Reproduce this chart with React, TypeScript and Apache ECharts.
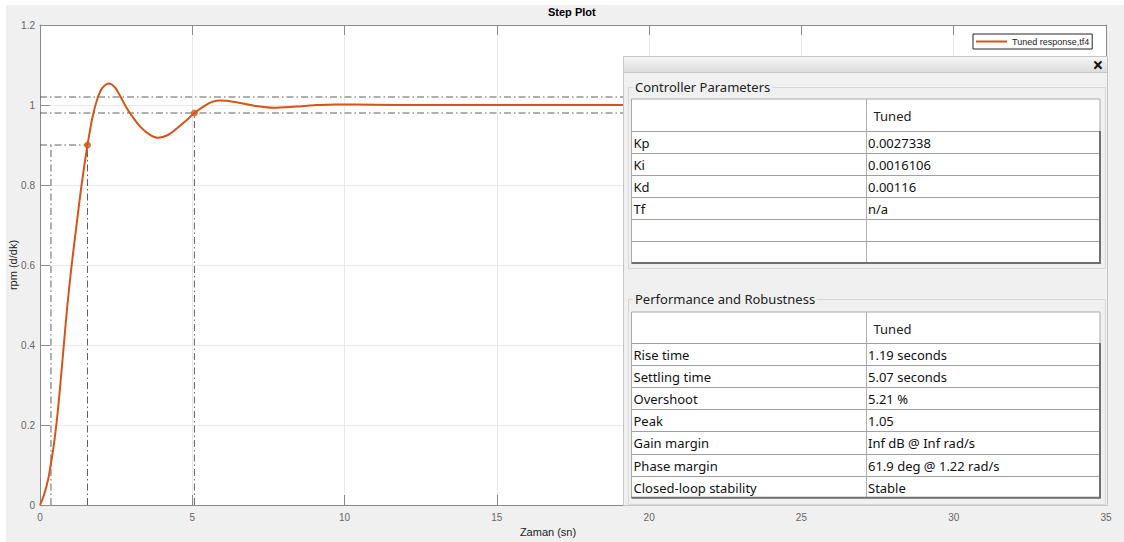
import React, { useEffect, useRef } from "react";
import * as echarts from "echarts";

// ---- data ----
const timeS = [
  0, 0.13, 0.27, 0.35, 0.45, 0.55, 0.66, 0.77, 0.9, 1.04, 1.2, 1.37, 1.56, 1.73, 1.89, 2.05, 2.27,
  2.45, 2.6, 2.79, 2.95, 3.29, 3.6, 3.88, 4.2, 4.5, 4.8, 5.07, 5.47, 5.7, 5.9, 6.4, 7.0, 7.66, 8.4,
  9.0, 9.7, 11, 12.5, 14, 20, 25, 30, 35,
];
const response = [
  0, 0.025, 0.065, 0.1, 0.148, 0.21, 0.295, 0.39, 0.5, 0.6, 0.7, 0.803, 0.9, 0.972, 1.017, 1.043,
  1.054, 1.045, 1.027, 1.0, 0.98, 0.946, 0.926, 0.918, 0.925, 0.942, 0.961, 0.98, 1.001, 1.009,
  1.011, 1.0077, 0.9986, 0.993, 0.996, 0.9995, 1.0015, 1.0008, 0.9998, 1.0, 1.0, 1.0, 1.0, 1.0,
];
const riseTimes = [0.36, 1.56]; // 10% and 90% crossing times
const riseLevel = 0.9;
const settleTime = 5.07;
const settleBand = [0.98, 1.02];
const xRange = [0, 35];
const yRange = [0, 1.2];

const seriesName = "Tuned response,tf4";
const tableHeader = "Tuned";
const paramNames = ["Kp", "Ki", "Kd", "Tf", "", ""];
const paramValues = ["0.0027338", "0.0016106", "0.00116", "n/a", "", ""];
const perfNames = [
  "Rise time",
  "Settling time",
  "Overshoot",
  "Peak",
  "Gain margin",
  "Phase margin",
  "Closed-loop stability",
];
const perfValues = [
  "1.19 seconds",
  "5.07 seconds",
  "5.21 %",
  "1.05",
  "Inf dB @ Inf rad/s",
  "61.9 deg @ 1.22 rad/s",
  "Stable",
];

// ---- styles ----
const ORANGE = "#D95319";
const AXIS = "#8a8a8a";
const PLOT_FONT = "Liberation Sans";
const UI_FONT = "Noto Sans";
const DASHDOT = [7, 3, 1.5, 3];

function refLine(points: number[][]) {
  return {
    type: "line",
    data: points,
    symbol: "none",
    silent: true,
    z: 2,
    lineStyle: { color: "#606060", width: 1, type: DASHDOT },
  };
}

function buildTable(
  top: number,
  headerH: number,
  rowH: number,
  names: string[],
  values: string[]
) {
  const left = 631.5;
  const right = 1100;
  const colX = 866.5;
  const bottom = top + headerH + rowH * names.length;
  const els: any[] = [];
  els.push({
    type: "rect",
    z: 101,
    shape: { x: left, y: top, width: right - left, height: bottom - top },
    style: { fill: "#ffffff", stroke: "#a8a8a8", lineWidth: 1 },
  });
  els.push({
    type: "line",
    z: 102,
    shape: { x1: colX, y1: top, x2: colX, y2: bottom },
    style: { stroke: "#b0b0b0", lineWidth: 1 },
  });
  els.push({
    type: "text",
    z: 103,
    style: {
      x: colX + 7,
      y: top + headerH / 2 + 1,
      text: tableHeader,
      fill: "#222",
      font: `13px "${UI_FONT}"`,
      verticalAlign: "middle",
    },
  });
  names.forEach((n, i) => {
    const y0 = Math.round(top + headerH + rowH * i) + 0.5;
    els.push({
      type: "line",
      z: 102,
      shape: { x1: left, y1: y0, x2: right, y2: y0 },
      style: { stroke: "#a0a0a0", lineWidth: 1 },
    });
    const cy = top + headerH + rowH * i + rowH / 2 + 1;
    els.push({
      type: "text",
      z: 103,
      style: { x: left + 2, y: cy, text: n, fill: "#111", font: `13px "${UI_FONT}"`, verticalAlign: "middle" },
    });
    els.push({
      type: "text",
      z: 103,
      style: { x: colX + 1.5, y: cy, text: values[i], fill: "#111", font: `13px "${UI_FONT}"`, verticalAlign: "middle" },
    });
  });
  els.push({
    type: "polyline",
    z: 103,
    shape: { points: [[right, top + headerH], [right, bottom], [left, bottom]] },
    style: { stroke: "#6f6f6f", lineWidth: 2, fill: null },
  });
  return els;
}

function groupBox(top: number, bottom: number, label: string) {
  return [
    {
      type: "rect",
      z: 100,
      shape: { x: 628.5, y: top + 0.5, width: 477, height: bottom - top },
      style: { fill: null, stroke: "#d8d8d8", lineWidth: 1 },
    },
    {
      type: "text",
      z: 103,
      style: {
        x: 633,
        y: top,
        text: label,
        fill: "#222",
        font: `13px "${UI_FONT}"`,
        verticalAlign: "middle",
        backgroundColor: "#f0f0f0",
        padding: [0, 2, 0, 2],
      },
    },
  ];
}

function buildGraphic() {
  const els: any[] = [];
  els.push({ type: "rect", z: 0, shape: { x: 0, y: 0, width: 1124, height: 5 }, style: { fill: "#fff" } });
  els.push({ type: "rect", z: 0, shape: { x: 0, y: 0, width: 6, height: 542 }, style: { fill: "#fff" } });
  els.push({
    type: "rect",
    z: 100,
    shape: { x: 623.5, y: 56.5, width: 484, height: 449 },
    style: { fill: "#f0f0f0", stroke: "#c6c6c6", lineWidth: 1 },
  });
  els.push({
    type: "rect",
    z: 100,
    shape: { x: 624, y: 57, width: 483, height: 15 },
    style: {
      fill: {
        type: "linear",
        x: 0,
        y: 0,
        x2: 0,
        y2: 1,
        colorStops: [
          { offset: 0, color: "#f6f6f6" },
          { offset: 1, color: "#dcdcdc" },
        ],
      },
    },
  });
  els.push({
    type: "line",
    z: 101,
    shape: { x1: 624, y1: 72.5, x2: 1107, y2: 72.5 },
    style: { stroke: "#c4c4c4", lineWidth: 1 },
  });
  els.push({
    type: "text",
    z: 103,
    style: {
      x: 1098,
      y: 65,
      text: "×",
      fill: "#111",
      font: `bold 19px "${UI_FONT}"`,
      align: "center",
      verticalAlign: "middle",
    },
  });
  els.push(...groupBox(87, 268, "Controller Parameters"));
  els.push(...buildTable(99, 32, 22, paramNames, paramValues));
  els.push(...groupBox(299, 504, "Performance and Robustness"));
  els.push(...buildTable(312, 31, 22.1, perfNames, perfValues));
  return els;
}

const mainData = timeS.map((t, i) => [t, response[i]]);

const axisCommon = {
  type: "value",
  axisLine: { show: true, onZero: false, lineStyle: { color: AXIS, width: 1 } },
  axisTick: { show: true, inside: true, length: 10, lineStyle: { color: AXIS } },
};

const option: any = {
  animation: false,
  backgroundColor: "#f0f0f0",
  title: {
    text: "Step Plot",
    left: 548,
    top: 6,
    padding: 0,
    textStyle: { fontFamily: PLOT_FONT, fontSize: 11, fontWeight: "bold", color: "#000" },
  },
  legend: {
    data: [{ name: seriesName, icon: "rect" }],
    left: 973,
    top: 34,
    itemWidth: 31,
    itemHeight: 2,
    padding: [3, 3, 3, 3],
    borderColor: "#262626",
    borderWidth: 1,
    borderRadius: 0,
    backgroundColor: "#fff",
    textStyle: { fontFamily: PLOT_FONT, fontSize: 9, color: "#222" },
  },
  grid: {
    left: 40,
    top: 25,
    right: 18,
    bottom: 37,
    show: true,
    backgroundColor: "#fff",
    borderWidth: 0,
    containLabel: false,
    outerBoundsMode: "none",
  },
  xAxis: [
    {
      ...axisCommon,
      min: xRange[0],
      max: xRange[1],
      interval: 5,
      position: "bottom",
      axisLabel: { color: "#666", fontSize: 10, fontFamily: PLOT_FONT, margin: 7 },
      splitLine: { show: true, lineStyle: { color: "#e9e9e9", width: 1 } },
      name: "Zaman (sn)",
      nameLocation: "middle",
      nameGap: 20,
      nameTextStyle: { fontFamily: PLOT_FONT, fontSize: 11, color: "#222", padding: [0, 50, 0, 0] },
    },
    {
      ...axisCommon,
      min: xRange[0],
      max: xRange[1],
      interval: 5,
      position: "top",
      axisLabel: { show: false },
      splitLine: { show: false },
    },
  ],
  yAxis: [
    {
      ...axisCommon,
      min: yRange[0],
      max: yRange[1],
      interval: 0.2,
      position: "left",
      axisLabel: {
        color: "#666",
        fontSize: 10,
        fontFamily: PLOT_FONT,
        margin: 5,
        formatter: (v: number) => String(Math.round(v * 10) / 10),
      },
      splitLine: { show: true, lineStyle: { color: "#e9e9e9", width: 1 } },
      name: "rpm (d/dk)",
      nameLocation: "middle",
      nameGap: 22,
      nameMoveOverlap: false,
      nameTextStyle: { fontFamily: PLOT_FONT, fontSize: 11, color: "#222" },
    },
    {
      ...axisCommon,
      min: yRange[0],
      max: yRange[1],
      interval: 0.2,
      position: "right",
      axisLabel: { show: false },
      splitLine: { show: false },
    },
  ],
  series: [
    refLine([[xRange[0], settleBand[1]], [xRange[1], settleBand[1]]]),
    refLine([[xRange[0], settleBand[0]], [xRange[1], settleBand[0]]]),
    refLine([[xRange[0], riseLevel], [riseTimes[1], riseLevel]]),
    refLine([[riseTimes[0], 0], [riseTimes[0], riseLevel]]),
    refLine([[riseTimes[1], 0], [riseTimes[1], riseLevel]]),
    refLine([[settleTime, 0], [settleTime, settleBand[0]]]),
    {
      name: seriesName,
      type: "line",
      data: mainData,
      symbol: "none",
      smooth: 0.35,
      z: 3,
      itemStyle: { color: ORANGE },
      lineStyle: { color: ORANGE, width: 2 },
    },
    {
      type: "scatter",
      data: [
        [riseTimes[1], riseLevel],
        [settleTime, settleBand[0]],
      ],
      symbol: "circle",
      symbolSize: 7,
      z: 4,
      itemStyle: { color: ORANGE },
      silent: true,
    },
  ],
  graphic: { elements: buildGraphic() },
};

export default function App() {
  const ref = useRef<HTMLDivElement>(null);
  useEffect(() => {
    if (!ref.current) return;
    const chart = echarts.init(ref.current, null, { renderer: "svg" });
    chart.setOption(option);
    return () => chart.dispose();
  }, []);
  return (
    <div
      ref={ref}
      style={{ position: "fixed", left: 0, top: 0, width: 1124, height: 542 }}
    />
  );
}
